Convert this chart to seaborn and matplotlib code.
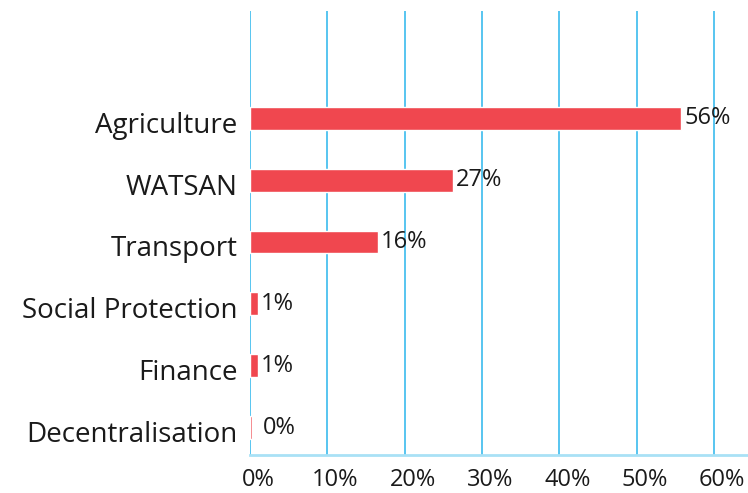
import matplotlib
matplotlib.use("Agg")
import matplotlib.pyplot as plt
import matplotlib.transforms as mtransforms
import seaborn as sns
import pandas as pd

# data
sectors = ["Agriculture", "WATSAN", "Transport", "Social Protection", "Finance", "Decentralisation"]
shares = [55.8, 26.2, 16.6, 1.0, 1.0, 0.2]
share_labels = ["56%", "27%", "16%", "1%", "1%", "0%"]
x_ticks = [0, 10, 20, 30, 40, 50, 60]

df = pd.DataFrame({"sector": sectors, "share": shares})

sns.set_style("white")
plt.rcParams["font.family"] = ["Open Sans", "DejaVu Sans"]

fig = plt.figure(figsize=(7.48, 4.93), dpi=100)
ax = fig.add_axes([250 / 748, 38 / 493, 498 / 748, 444 / 493])

sns.barplot(data=df, x="share", y="sector", color="#f0474f", width=0.37,
            saturation=1, ax=ax, zorder=3)

ax.set_xlim(0, 64.4)
ax.set_ylim(5.44, -1.73)
ax.set_xticks(x_ticks)
ax.set_xticklabels([f"{t}%" for t in x_ticks], fontsize=17, color="#1a1a1a")
ax.tick_params(axis="y", labelsize=20, colors="#1a1a1a", pad=9, length=0)
ax.tick_params(axis="x", pad=9, length=0)
ax.set_xlabel("")
ax.set_ylabel("")

# tick labels in the reference sit a little right of / below their positions
shift_x = mtransforms.ScaledTranslation(8 / 100, 0, fig.dpi_scale_trans)
for lab in ax.get_xticklabels():
    lab.set_transform(lab.get_transform() + shift_x)
shift_y = mtransforms.ScaledTranslation(0, -4 / 100, fig.dpi_scale_trans)
for lab in ax.get_yticklabels():
    lab.set_transform(lab.get_transform() + shift_y)

for t in x_ticks:
    ax.axvline(t, color="#3bbbee", lw=1.2, zorder=1)

for s in ["top", "right", "left"]:
    ax.spines[s].set_visible(False)
ax.spines["bottom"].set_color("#a9e1f6")
ax.spines["bottom"].set_linewidth(2)

pads = [2, 2, 2, 2, 2, 8]
for i, (v, lab) in enumerate(zip(shares, share_labels)):
    ax.annotate(lab, xy=(v, i), xytext=(pads[i], 0), textcoords="offset points",
                va="center", ha="left", fontsize=17, color="#1a1a1a")

fig.savefig("out.png", dpi=100)
